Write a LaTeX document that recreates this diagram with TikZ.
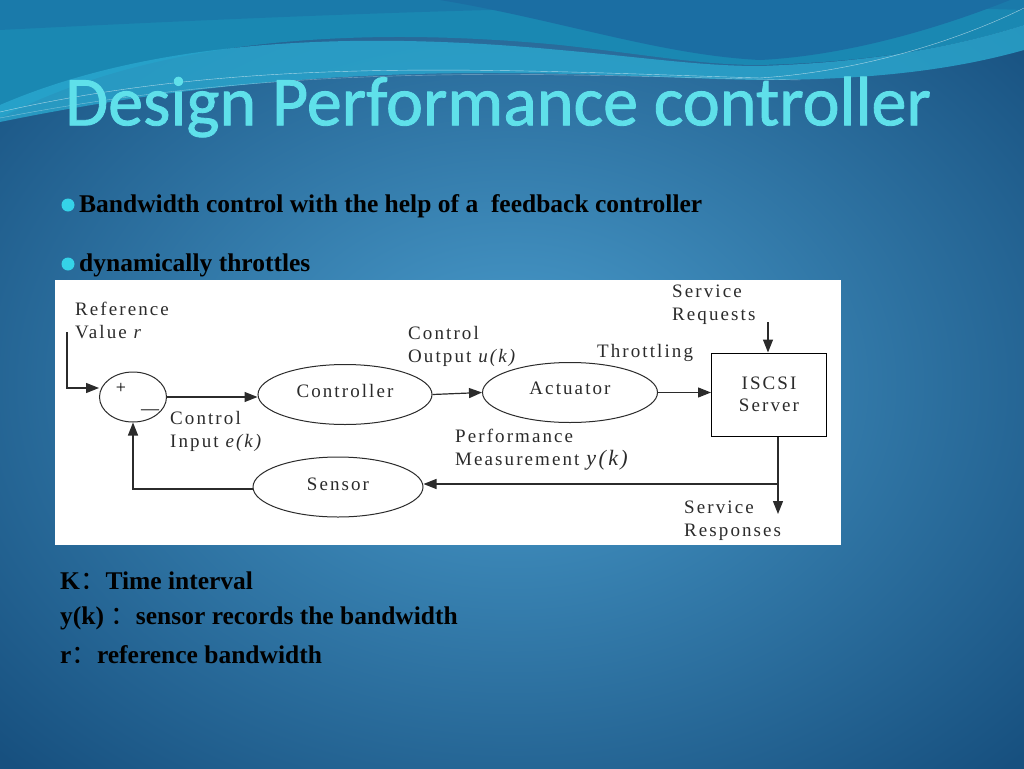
\documentclass[tikz,border=0pt]{standalone}
\usepackage{fontspec}
\setmainfont{Liberation Serif}
\newfontfamily\titlefont[FakeBold=1.2]{Carlito}
\newfontfamily\diagfont[LetterSpace=11]{Liberation Serif}
\newfontfamily\cjk{Noto Sans CJK SC}
\usetikzlibrary{shapes.geometric,arrows.meta}

\definecolor{slidedark}{HTML}{17507F}
\definecolor{slidelight}{HTML}{4A9DCD}
\definecolor{topteal}{HTML}{1A88B2}
\definecolor{topblue}{HTML}{1B6EA3}
\definecolor{wavecyan}{HTML}{2AA8CF}
\definecolor{titlecyan}{HTML}{5FE0EA}
\definecolor{inkgray}{HTML}{2B2B2B}
\definecolor{dotcyan}{HTML}{35D3E8}

\tikzset{
  blockellipse/.style={ellipse,draw=inkgray,line width=1pt,inner sep=0pt,
    minimum width=#1,minimum height=60pt,font=\diagfont\fontsize{19}{19}\selectfont,text=inkgray},
  sumjunction/.style={ellipse,draw=inkgray,line width=1pt,minimum width=67pt,minimum height=50pt,inner sep=0pt},
  serverbox/.style={rectangle,draw=black,line width=1pt,minimum width=115pt,minimum height=83pt,
    align=center,font=\diagfont\fontsize{19}{22}\selectfont,text=inkgray},
  diaglabel/.style={anchor=north west,inner sep=0pt,align=left,
    font=\diagfont\fontsize{19}{23}\selectfont,text=inkgray},
  flow/.style={draw=inkgray,line width=1.2pt,-{Triangle[length=13pt,width=10pt]}},
  bullettext/.style={anchor=west,inner sep=0pt,font=\bfseries\fontsize{25.5}{25.5}\selectfont,text=black},
  legendtext/.style={anchor=west,inner sep=0pt,font=\bfseries\fontsize{25.5}{25.5}\selectfont,text=black}
}
\newcommand{\wcolon}{{\cjk\mdseries ：}}

\begin{document}
\begin{tikzpicture}[x=1pt,y=-1pt]
\useasboundingbox (0,0) rectangle (1024,768);
% slide background
\shade[inner color=slidelight,outer color=slidedark] (-200,-150) rectangle (1224,918);
\fill[topteal] (0,0) -- (1024,0) -- (1024,25) .. controls (960,45) and (880,62) .. (760,65)
  .. controls (700,65) and (650,55) .. (560,45) .. controls (350,25) and (150,40) .. (0,118) -- cycle;
\fill[topblue,opacity=0.5] (0,0) -- (1024,0) -- (1024,10) .. controls (700,0) and (400,10) .. (0,30) -- cycle;
\fill[topblue] (440,0) .. controls (560,20) and (660,55) .. (760,60) .. controls (860,55) and (960,20) .. (1010,0) -- cycle;
\fill[wavecyan,opacity=0.8] (0,105) .. controls (150,40) and (350,30) .. (560,50) .. controls (650,58) and (700,66) .. (760,66)
  .. controls (880,62) and (960,45) .. (1024,25) -- (1024,50) .. controls (960,68) and (880,80) .. (760,80)
  .. controls (600,78) and (350,50) .. (0,122) -- cycle;
\draw[white,opacity=0.6,line width=0.4pt] (0,112) .. controls (250,55) and (500,70) .. (760,78) .. controls (880,70) and (980,30) .. (1024,8);
\draw[white,opacity=0.4,line width=0.4pt] (0,118) .. controls (300,60) and (550,75) .. (800,80);

% title
\node (title) [text=titlecyan,font=\titlefont\fontsize{70}{70}\selectfont] at (498,107) {Design Performance controller};

% bullets
\fill[dotcyan] (68,205) circle (6.5pt);
\node (bulletone) [bullettext] at (79,206) {Bandwidth control with the help of a\ \ feedback controller};
\fill[dotcyan] (68,264) circle (6.5pt);
\node (bullettwo) [bullettext] at (79,265) {dynamically throttles};

% diagram panel
\fill[white] (55,280) rectangle (841,545);

\node (sum) [sumjunction] at (133,397) {};
\node (plus) at (121,388) {\fontsize{18}{18}\selectfont +};
\node (minus) at (150,412) {\fontsize{18}{18}\selectfont\textemdash};
\node (ctrl) [blockellipse=174pt] at (345,394.5) {\raisebox{7pt}{Controller}};
\node (act) [blockellipse=175pt] at (570,392.5) {\raisebox{8pt}{Actuator}};
\node (srv) [serverbox] at (769,394.5) {ISCSI\\Server};
\node (sens) [blockellipse=170pt] at (338,487) {\raisebox{5pt}{Sensor}};

\coordinate (refstart) at (67,332);
\coordinate (refcorner) at (67,388);
\coordinate (reqtop) at (768,322);
\coordinate (tap) at (778,484);
\coordinate (resend) at (778,514);
\coordinate (fbcorner) at (133,489);

\node (reflabel) [diaglabel] at (75,302) {Reference\\Value \textit{r}};
\node (einlabel) [diaglabel] at (170,411) {Control\\Input \textit{e(k)}};
\node (uoutlabel) [diaglabel] at (408,326) {Control\\Output \textit{u(k)}};
\node (thrlabel) [diaglabel] at (597,344) {Throttling};
\node (reqlabel) [diaglabel] at (672,285) {Service\\Requests};
\node (ymeaslabel) [diaglabel] at (455,429) {Performance\\Measurement \textit{\fontsize{22}{22}\selectfont y(k)}};
\node (reslabel) [diaglabel] at (684,501) {Service\\Responses};

\draw[flow] (refstart) -- (refcorner) -- (sum.west |- refcorner);
\draw[flow] (sum.east) -- (ctrl.west |- sum.east);
\draw[flow] (ctrl.east) -- (act.west);
\draw[flow] (act.east) -- (srv.west |- act.east);
\draw[flow] (reqtop) -- (reqtop |- srv.north);
\draw[flow] (srv.south -| tap) -- (resend);
\draw[flow] (tap) -- (sens.east |- tap);
\draw[flow] (sens.west |- fbcorner) -- (fbcorner) -- (sum.south);

% legend
\node (legk) [legendtext] at (60,581) {K\wcolon Time interval};
\node (legy) [legendtext] at (60,618) {y(k)\ \wcolon sensor records the bandwidth};
\node (legr) [legendtext] at (60,655) {r\wcolon reference bandwidth};
\end{tikzpicture}
\end{document}
